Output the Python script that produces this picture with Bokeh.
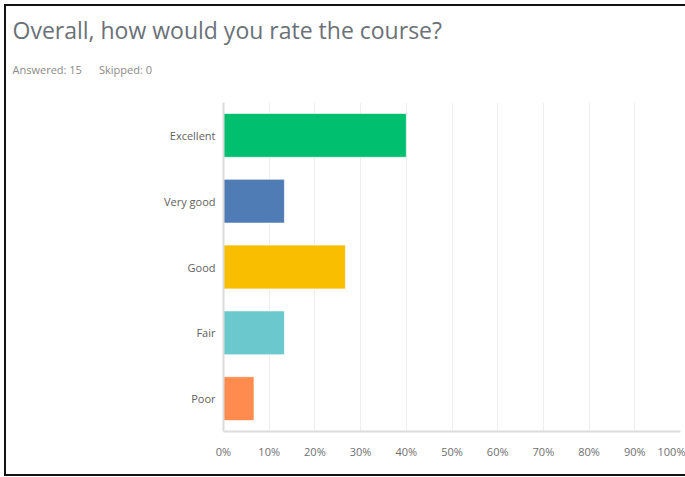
from bokeh.plotting import figure
from bokeh.models import FactorRange, Range1d, FixedTicker, PrintfTickFormatter, Title, ColumnDataSource
from bokeh.embed import file_html
from bokeh.resources import INLINE

categories = ["Excellent", "Very good", "Good", "Fair", "Poor"]
percents = [40.0, 13.33, 26.67, 13.33, 6.67]
colors = ["#00BF6F", "#507CB6", "#F9BE00", "#6BC8CD", "#FF8B4F"]
ticks = [0, 10, 20, 30, 40, 50, 60, 70, 80, 90, 100]
title_text = "Overall, how would you rate the course?"
answered_text = "Answered: 15"
skipped_text = "Skipped: 0"

FONT = "Open Sans"

src = ColumnDataSource(dict(cat=categories, pct=percents, color=colors))

p = figure(width=681, height=472, output_backend="svg", toolbar_location=None,
           y_range=FactorRange(*reversed(categories)), x_range=Range1d(0, 100),
           min_border_left=217, min_border_right=7, min_border_top=96, min_border_bottom=47,
           background_fill_color="white", border_fill_color="white")
p.outline_line_color = None

p.hbar(y="cat", right="pct", left=0, height=0.665, fill_color="color",
       line_color="white", line_alpha=0.6, line_width=1, source=src)

p.xaxis.ticker = FixedTicker(ticks=ticks)
p.xaxis.formatter = PrintfTickFormatter(format="%d%%")
p.xaxis.major_tick_line_color = None
p.xaxis.minor_tick_line_color = None
p.xaxis.axis_line_color = "#dcdcdc"
p.xaxis.axis_line_width = 2
p.xaxis.major_label_text_font = FONT
p.xaxis.major_label_text_font_size = "11px"
p.xaxis.major_label_text_color = "#6f6f6f"
p.xaxis.major_label_standoff = 6

p.yaxis.major_tick_line_color = None
p.yaxis.minor_tick_line_color = None
p.yaxis.axis_line_color = "#dcdcdc"
p.yaxis.axis_line_width = 2
p.yaxis.major_label_text_font = FONT
p.yaxis.major_label_text_font_size = "11px"
p.yaxis.major_label_text_color = "#5f5f5f"
p.yaxis.major_label_standoff = 2

p.xgrid.grid_line_color = "#eeeeee"
p.xgrid.ticker = FixedTicker(ticks=ticks)
p.ygrid.grid_line_color = None

# spacer between the subtitle and the plot area
p.add_layout(Title(text="\u00a0", standoff=12, text_font=FONT, text_font_size="1px"), "above")
gap = "\u00a0" * 6
p.add_layout(Title(text=answered_text + gap + skipped_text, align="left", offset=-211,
                   standoff=21, text_font=FONT, text_font_size="11px",
                   text_font_style="normal", text_color="#8a8a8a"), "above")
p.add_layout(Title(text=title_text, align="left", offset=-211, standoff=8,
                   text_font=FONT, text_font_size="23px", text_font_style="normal",
                   text_color="#6b7178"), "above")

p.styles = {"border-left": "2px solid #111", "border-top": "2px solid #111",
            "border-bottom": "2px solid #111", "margin-left": "4px", "margin-top": "4px"}

open("out.html", "w").write(file_html(p, INLINE))
